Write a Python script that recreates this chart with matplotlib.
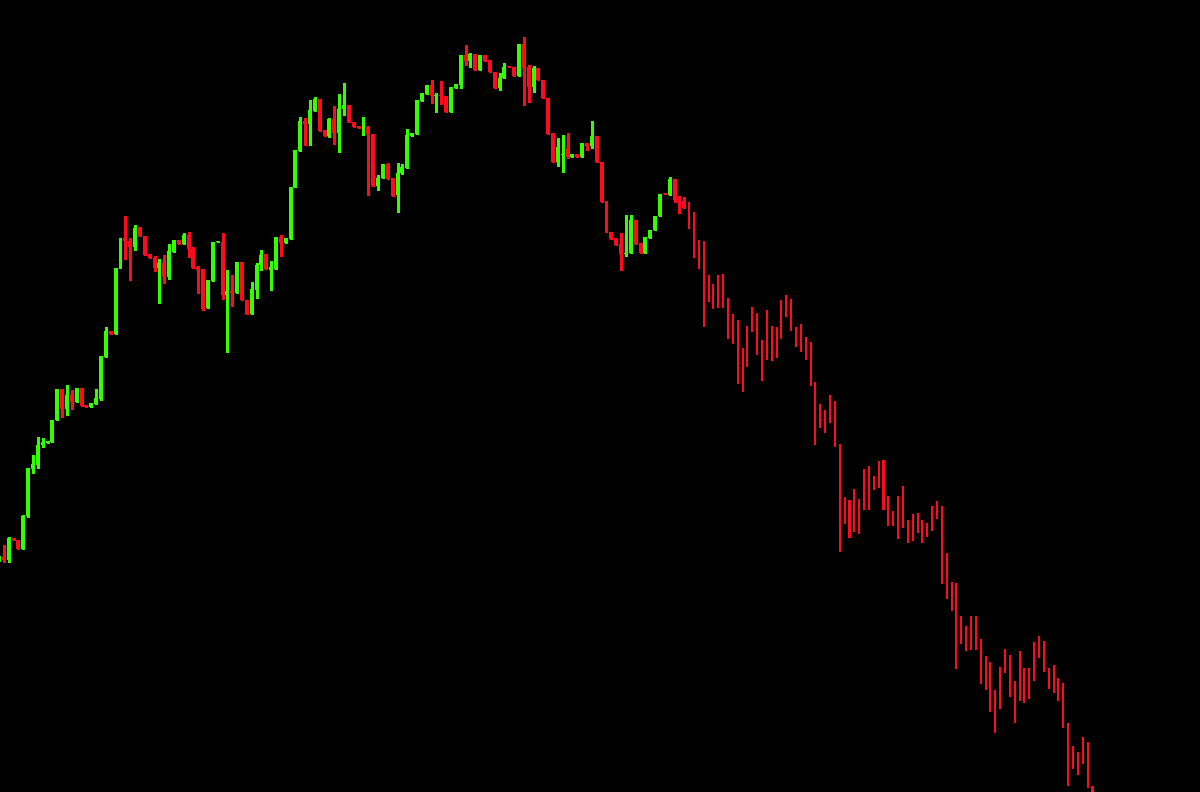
import numpy as np
import matplotlib
matplotlib.use("Agg")
import matplotlib.pyplot as plt

# Full OHLC candles (first part of the series)
opens = [562, 557, 560, 538, 540, 549, 516, 469, 465, 445, 443, 442, 420, 389, 409, 395, 402, 388, 405, 407,
         404, 399, 357, 331, 334, 268, 238, 241, 247, 227, 236, 254, 258, 268, 263, 277, 252, 240, 244, 235,
         249, 267, 269, 308, 281, 242, 242, 295, 291, 293, 262, 300, 314, 290, 265, 254, 270, 269, 237, 243,
         239, 187, 151, 121, 124, 111, 99, 130, 136, 119, 133, 109, 105, 122, 126, 128, 127, 134, 186, 178,
         164, 178, 195, 173, 168, 136, 134, 101, 94, 85, 96, 95, 96, 112, 88, 85, 55, 61, 54, 70,
         55, 60, 72, 88, 78, 66, 67, 76, 44, 67, 87, 68, 80, 98, 133, 162, 155, 148, 157, 154,
         157, 143, 146, 136, 162, 201, 232, 238, 244, 254, 253, 220, 243, 253, 238, 230, 216, 193, 195, 179,
         198, 201]
closes = [556, 560, 538, 540, 549, 516, 468, 464, 445, 442, 441, 420, 389, 409, 395, 402, 388, 406, 407, 403,
          398, 356, 331, 334, 268, 238, 241, 247, 228, 236, 255, 258, 268, 263, 277, 251, 240, 244, 235, 249,
          268, 270, 309, 280, 242, 241, 295, 291, 293, 262, 300, 314, 289, 265, 255, 269, 267, 237, 243, 238,
          187, 150, 121, 124, 110, 99, 131, 136, 119, 133, 109, 105, 122, 127, 128, 126, 134, 186, 178, 164,
          179, 196, 173, 167, 135, 133, 100, 93, 85, 96, 95, 96, 112, 87, 84, 55, 61, 54, 70, 55,
          61, 72, 88, 78, 67, 67, 76, 44, 68, 87, 68, 80, 98, 134, 162, 147, 154, 157, 154, 157,
          143, 146, 136, 162, 202, 232, 239, 245, 254, 253, 220, 244, 253, 237, 230, 216, 194, 194, 179, 200,
          201, 208]
highs = [555, 545, 537, 538, 540, 515, 468, 455, 437, 438, 441, 420, 389, 389, 385, 390, 388, 388, 405, 403,
         389, 356, 327, 331, 268, 238, 216, 238, 225, 227, 236, 254, 256, 259, 255, 244, 240, 240, 233, 232,
         247, 266, 269, 280, 242, 241, 233, 270, 275, 262, 262, 300, 282, 263, 250, 254, 261, 237, 235, 238,
         187, 150, 117, 118, 100, 97, 99, 130, 118, 106, 94, 83, 105, 122, 126, 117, 126, 134, 175, 164,
         163, 178, 163, 164, 129, 133, 100, 93, 85, 80, 93, 81, 96, 87, 84, 55, 45, 53, 54, 55,
         55, 60, 72, 73, 63, 66, 67, 44, 37, 65, 66, 68, 80, 98, 133, 138, 135, 133, 154, 154,
         143, 143, 121, 136, 162, 201, 232, 238, 233, 215, 215, 220, 243, 237, 230, 216, 194, 193, 177, 179,
         196, 197]
lows = [563, 562, 562, 540, 549, 549, 517, 473, 468, 447, 443, 442, 420, 417, 415, 409, 402, 406, 407, 407,
        404, 400, 357, 334, 334, 268, 259, 280, 250, 236, 255, 258, 271, 303, 283, 279, 252, 244, 244, 257,
        268, 293, 310, 308, 281, 242, 299, 352, 306, 293, 300, 314, 314, 298, 270, 269, 290, 269, 256, 243,
        239, 187, 151, 145, 145, 111, 131, 136, 137, 144, 152, 115, 122, 127, 128, 135, 195, 186, 190, 178,
        179, 196, 212, 174, 168, 136, 134, 101, 94, 103, 112, 104, 112, 112, 88, 88, 65, 67, 70, 70,
        61, 72, 88, 90, 78, 67, 76, 76, 105, 102, 92, 80, 98, 134, 162, 166, 172, 158, 157, 157,
        157, 150, 148, 162, 202, 232, 239, 245, 270, 256, 253, 244, 253, 253, 238, 230, 216, 194, 195, 202,
        213, 208]

# Falling tail of the series: bodies only (top / bottom levels), all down bars
tail_tops = [202, 212, 240, 241, 275, 284, 275, 274, 298, 314, 320, 348, 326, 307, 313, 340, 310, 326, 327, 300,
             295, 299, 327, 324, 337, 342, 382, 404, 410, 395, 401, 444, 497, 500, 489, 499, 469, 466, 476, 461,
             460, 496, 511, 496, 486, 520, 514, 513, 520, 523, 506, 501, 506, 553, 582, 583, 616, 626, 616, 616,
             639, 656, 662, 690, 667, 649, 655, 681, 651, 668, 668, 642, 636, 641, 668, 665, 678, 683, 723, 746,
             752, 737, 742, 786]
tail_bottoms = [229, 258, 269, 327, 302, 309, 308, 308, 339, 344, 384, 392, 367, 332, 355, 381, 360, 361, 358, 339,
                317, 331, 347, 352, 360, 386, 445, 428, 433, 423, 447, 552, 524, 538, 532, 534, 510, 510, 490, 488,
                510, 526, 526, 539, 528, 543, 541, 533, 543, 537, 531, 519, 584, 599, 611, 669, 644, 651, 650, 650,
                684, 690, 712, 733, 709, 673, 697, 723, 701, 703, 699, 681, 658, 672, 689, 693, 701, 728, 786, 769,
                775, 764, 788, 800]

GREEN = "#33ff00"
RED = "#ff0a1e"

o = np.array(opens + tail_tops, dtype=float)
c = np.array(closes + tail_bottoms, dtype=float)
h = np.array(highs + tail_tops, dtype=float)
l = np.array(lows + tail_bottoms, dtype=float)
n_full = len(opens)
n = len(o)
x = np.arange(n)

# levels grow downward, so close < open means rising candle
up = c < o
colors = np.where(up, GREEN, RED)
widths = np.where(x < n_full, 0.82, 0.42)

fig = plt.figure(figsize=(12, 7.92), dpi=100, facecolor="black")
ax = fig.add_axes([0, 0, 1, 1])
ax.set_facecolor("black")
ax.axis("off")

ax.vlines(x[:n_full], h[:n_full], l[:n_full], colors=colors[:n_full], linewidth=0.75, antialiased=False)
bottom = np.minimum(o, c)
height = np.maximum(np.abs(c - o), 1.2)
ax.bar(x, height, bottom=bottom, width=widths, color=colors, linewidth=0, antialiased=False)

spacing_px = 4.86
ax.set_xlim(0.206, 0.206 + 1200 / spacing_px)
ax.set_ylim(792, 0)

fig.savefig("out.png", dpi=100, facecolor="black")
